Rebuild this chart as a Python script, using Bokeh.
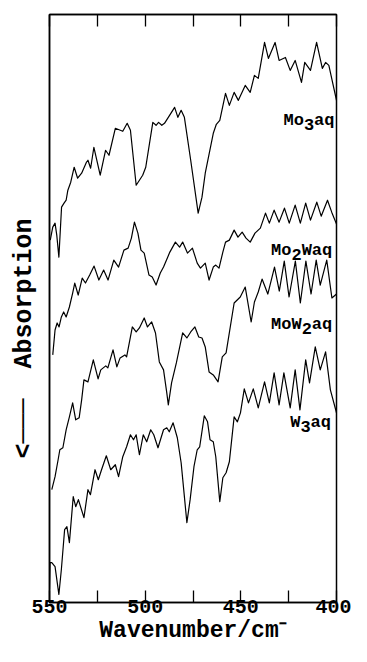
from bokeh.plotting import figure
from bokeh.models import Range1d, FixedTicker, ColumnDataSource, LinearAxis
from bokeh.embed import file_html
from bokeh.resources import INLINE
from bokeh.core.properties import value

# ---- data (wavenumber / cm-1, absorption in arbitrary offset units) ----
wn_mo3 = [549.6, 548.3, 547.1, 546.2, 545.1, 543.7, 542.4, 541.3, 540.4, 538.9, 537.1, 535.3, 533.2, 530.7,
          529.9, 528.5, 526.8, 523.5, 520.7, 518.9, 515.6, 511.7, 509.4, 507.7, 504.7, 501.3, 499.7, 496.0,
          494.3, 493.0, 491.3, 489.9, 484.6, 482.9, 481.2, 479.5, 476.2, 472.3, 470.3, 468.6, 464.4, 462.8,
          461.0, 458.0, 456.0, 453.5, 451.3, 447.7, 445.1, 442.9, 440.9, 437.6, 435.6, 432.1, 430.0, 426.7,
          424.2, 421.6, 418.3, 416.6, 413.6, 410.4, 407.4, 405.7, 404.0, 400.0]
ab_mo3 = [36.3, 37.6, 38.0, 36.8, 34.6, 39.6, 40.0, 40.3, 41.3, 42.1, 43.6, 42.5, 43.0, 44.1,
          44.3, 43.5, 45.6, 42.8, 45.3, 44.8, 47.5, 47.2, 48.0, 47.3, 41.8, 42.8, 43.6, 48.1,
          47.8, 48.1, 47.8, 48.0, 49.6, 48.6, 49.3, 48.6, 44.3, 39.0, 40.6, 43.0, 47.0, 47.9,
          48.3, 51.0, 49.8, 51.1, 50.3, 51.8, 51.1, 52.8, 52.5, 56.1, 54.5, 56.1, 54.3, 54.6,
          53.3, 54.3, 52.1, 54.1, 53.3, 56.1, 53.5, 54.1, 53.8, 50.3]

wn_mo2w = [548.3, 547.1, 546.0, 545.0, 543.8, 542.6, 541.3, 539.6, 537.9, 536.8, 535.0, 532.9, 531.2, 529.0,
           526.7, 524.2, 521.7, 519.4, 516.4, 513.9, 511.1, 508.9, 507.2, 505.6, 503.8, 502.2, 500.5, 498.0,
           496.3, 494.3, 492.1, 490.4, 487.1, 484.2, 482.0, 480.4, 477.9, 475.3, 472.8, 471.1, 468.6, 466.6,
           464.4, 463.1, 461.4, 459.4, 458.0, 456.0, 453.5, 451.5, 449.3, 447.3, 445.1, 442.6, 439.8, 437.1,
           435.1, 432.6, 430.0, 427.2, 424.7, 421.6, 418.9, 416.1, 413.6, 410.3, 408.0, 404.7, 402.5, 400.0]
ab_mo2w = [24.8, 27.3, 28.0, 27.6, 28.6, 29.1, 28.6, 29.6, 31.0, 32.0, 30.8, 32.5, 32.0, 32.8,
           33.7, 32.3, 33.3, 32.3, 34.3, 33.6, 35.3, 35.5, 36.5, 38.1, 37.0, 35.3, 35.0, 32.8,
           32.6, 31.8, 33.0, 33.6, 35.1, 36.1, 35.6, 36.1, 35.0, 35.5, 34.0, 33.5, 34.0, 32.3,
           33.6, 33.8, 33.5, 35.1, 36.1, 36.3, 37.3, 36.6, 37.1, 36.5, 36.1, 37.0, 37.5, 39.0,
           38.0, 39.3, 38.1, 39.5, 38.0, 39.8, 38.0, 40.0, 38.3, 40.1, 38.7, 40.3, 39.1, 37.9]

wn_mow2 = [548.8, 547.1, 545.5, 544.6, 543.0, 541.3, 539.6, 537.9, 536.3, 534.5, 533.2, 532.0, 529.9, 527.1,
           524.6, 523.2, 520.6, 519.5, 516.8, 514.8, 513.1, 510.6, 509.7, 506.7, 504.7, 503.0, 500.5, 498.8,
           496.6, 494.6, 492.6, 490.4, 488.7, 487.9, 486.2, 483.7, 480.4, 478.2, 476.2, 474.0, 472.0, 470.3,
           468.6, 466.6, 464.4, 461.9, 459.7, 457.7, 453.5, 450.3, 447.7, 444.6, 442.9, 440.9, 438.9, 435.9,
           432.4, 429.9, 427.3, 424.8, 421.5, 418.9, 416.0, 413.3, 410.6, 408.5, 405.1, 402.4, 400.0]
ab_mow2 = [11.3, 12.6, 14.3, 15.3, 15.5, 17.3, 18.6, 20.0, 18.3, 18.5, 20.3, 22.3, 22.1, 24.3,
           22.4, 23.3, 23.7, 23.5, 25.3, 23.6, 24.5, 24.8, 24.6, 27.6, 27.1, 27.5, 28.5, 27.6,
           28.1, 27.0, 24.1, 23.3, 21.0, 19.8, 22.0, 24.0, 27.0, 26.5, 27.1, 27.6, 26.6, 26.5,
           25.6, 23.1, 22.8, 22.1, 24.6, 25.0, 30.0, 30.6, 31.6, 28.1, 30.1, 31.1, 32.4, 30.9,
           33.6, 31.2, 34.2, 30.6, 34.2, 30.0, 34.2, 30.9, 34.3, 31.8, 34.3, 30.5, 30.9]

wn_w3 = [550.0, 549.7, 548.8, 547.1, 545.1, 543.8, 542.1, 540.9, 539.6, 537.6, 536.3, 534.9, 532.0, 529.9,
         528.6, 526.2, 524.5, 522.8, 520.3, 518.0, 515.6, 513.9, 511.7, 509.7, 507.7, 506.1, 504.7, 503.0,
         501.0, 499.2, 497.1, 495.5, 493.3, 490.4, 488.7, 487.4, 485.4, 483.2, 481.2, 479.5, 478.2, 476.5,
         474.5, 472.8, 471.5, 469.1, 467.4, 466.1, 464.4, 463.1, 461.0, 459.4, 457.7, 456.0, 453.5, 451.8,
         450.2, 448.2, 446.0, 443.5, 440.9, 437.6, 435.1, 432.6, 430.0, 427.5, 424.2, 421.6, 419.1, 416.1,
         414.1, 411.1, 408.5, 405.7, 403.2, 400.0]
ab_w3 = [1.3, 4.0, 4.0, 3.6, 0.8, 3.3, 7.3, 7.6, 6.0, 10.6, 9.6, 10.3, 8.5, 11.3,
         10.8, 13.3, 12.3, 13.3, 14.7, 13.3, 13.8, 12.6, 14.6, 15.6, 16.8, 16.3, 16.8, 14.8,
         16.8, 16.1, 17.3, 16.8, 15.5, 17.3, 17.5, 17.1, 18.0, 16.5, 14.0, 10.6, 8.0, 10.3,
         13.6, 15.3, 15.6, 18.7, 18.1, 16.3, 16.1, 14.6, 10.1, 12.5, 13.0, 14.1, 18.6, 18.1,
         19.0, 21.4, 20.0, 21.4, 19.5, 22.1, 20.0, 23.0, 19.8, 23.0, 19.5, 23.3, 19.3, 24.3,
         22.0, 25.6, 23.3, 25.1, 21.3, 19.0]

# curve labels: pieces (text, is_subscript), anchored at left/baseline
lab_parts = [[("Mo", 0), ("3", 1), ("aq", 0)],
             [("Mo", 0), ("2", 1), ("Waq", 0)],
             [("MoW", 0), ("2", 1), ("aq", 0)],
             [("W", 0), ("3", 1), ("aq", 0)]]
lab_x = [427.7, 434.2, 434.2, 424.2]
lab_y = [48.3, 35.3, 27.8, 18.0]

major_ticks = [550, 500, 450, 400]
minor_ticks = [525, 475, 425]

FONT = "Liberation Mono"

p = figure(width=351, height=646, output_backend="svg", toolbar_location=None,
           x_range=Range1d(550, 400), y_range=Range1d(0, 58.9),
           min_border_left=49, min_border_right=15, min_border_top=14, min_border_bottom=44)
p.grid.visible = False
p.background_fill_color = "white"
p.border_fill_color = "white"
p.outline_line_color = "black"
p.outline_line_width = 1.5

for wn, ab in [(wn_mo3, ab_mo3), (wn_mo2w, ab_mo2w), (wn_mow2, ab_mow2), (wn_w3, ab_w3)]:
    p.line(wn, ab, line_color="black", line_width=1.2, line_join="round")

# labels
LAB_SIZE = 17
cw = 0.6 * LAB_SIZE
xs, ys, ts, xo, yo = [], [], [], [], []
for x, y, parts in zip(lab_x, lab_y, lab_parts):
    n = 0
    for t, sub in parts:
        xs.append(x); ys.append(y); ts.append(t)
        xo.append(n * cw); yo.append(4 if sub else 0)
        n += len(t)
src = ColumnDataSource(dict(x=xs, y=ys, t=ts, xo=xo, yo=yo))
p.text(x="x", y="y", text="t", x_offset="xo", y_offset="yo", source=src,
       text_font=value(FONT), text_font_size=f"{LAB_SIZE}px", text_font_style="bold",
       text_align="left", text_baseline="alphabetic", text_color="black")

# bottom axis
xa = p.xaxis[0]
xa.ticker = FixedTicker(ticks=major_ticks, minor_ticks=minor_ticks)
xa.axis_line_width = 1.5
xa.major_tick_in = 12
xa.major_tick_out = 0
xa.minor_tick_in = 12
xa.minor_tick_out = 0
xa.major_tick_line_width = 1.3
xa.minor_tick_line_width = 1.3
xa.major_label_text_font = FONT
xa.major_label_text_font_size = "20px"
xa.major_label_text_font_style = "bold"
xa.major_label_text_color = "black"
xa.major_label_standoff = -3
xa.axis_label = "Wavenumber/cm\u207b"
xa.axis_label_text_font = FONT
xa.axis_label_text_font_size = "23px"
xa.axis_label_text_font_style = "bold"
xa.axis_label_text_color = "black"
xa.axis_label_standoff = 2

# top axis: ticks only (all as minor ticks so no labels are produced)
top = LinearAxis(ticker=FixedTicker(ticks=[], minor_ticks=major_ticks + minor_ticks),
                 minor_tick_in=12, minor_tick_out=0, minor_tick_line_width=1.3,
                 major_tick_in=0, major_tick_out=0, major_label_standoff=0,
                 axis_line_width=1.5)
p.add_layout(top, "above")

# left axis: label only
ya = p.yaxis[0]
ya.ticker = FixedTicker(ticks=[], minor_ticks=[])
ya.major_tick_line_color = None
ya.minor_tick_line_color = None
ya.major_label_standoff = 0
ya.axis_line_width = 1.5
ya.axis_label = "<\u2500\u2500\u2500\u00a0\u00a0Absorption\u00a0\u00a0\u00a0\u00a0"
ya.axis_label_text_font = FONT
ya.axis_label_text_font_size = "25px"
ya.axis_label_text_font_style = "bold"
ya.axis_label_text_color = "black"
ya.axis_label_standoff = 11

open("out.html", "w").write(file_html(p, INLINE))
